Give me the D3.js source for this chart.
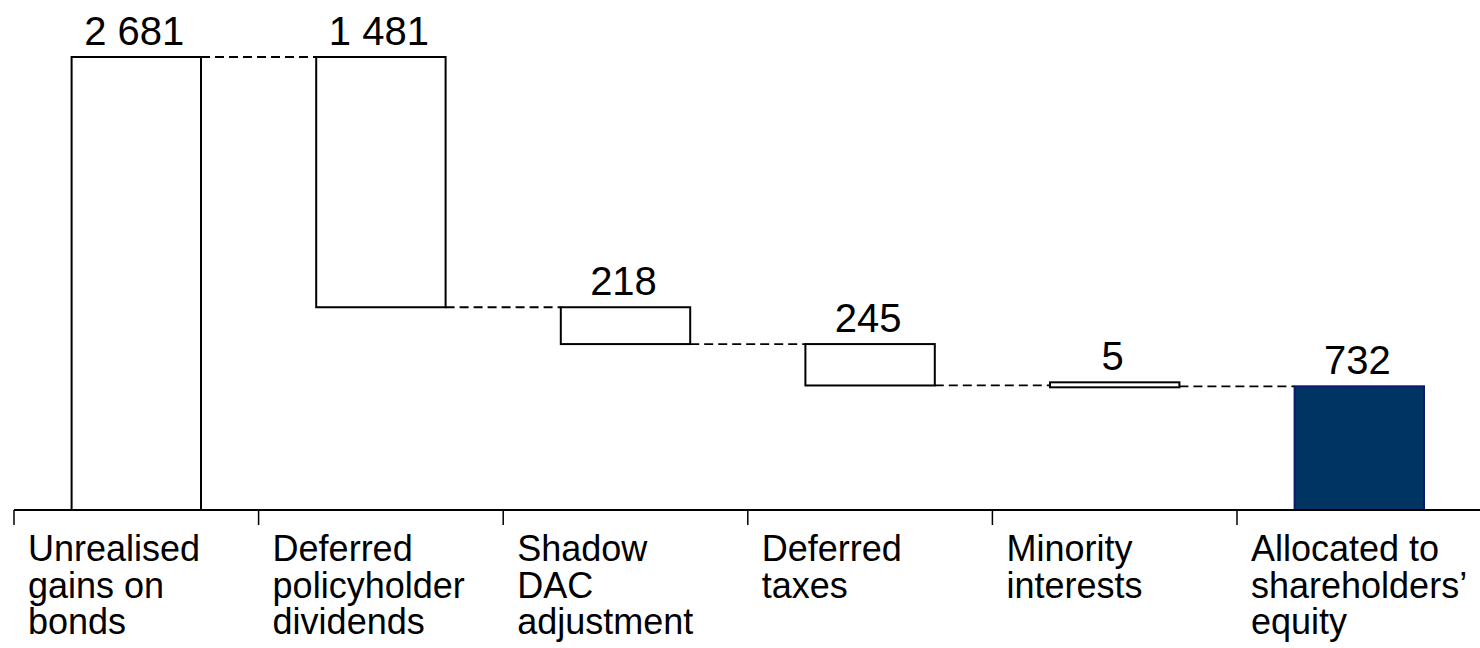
<!DOCTYPE html>
<html>
<head>
<meta charset="utf-8">
<script src="https://cdn.jsdelivr.net/npm/d3@7"></script>
<style>
  html, body { margin: 0; padding: 0; background: #fff; }
  svg { display: block; font-family: "Liberation Sans", Arial, sans-serif; }
</style>
</head>
<body>
<svg id="chart" width="1480" height="648"></svg>
<script>
// ---- data ----
const categories = [
  "Unrealised gains on bonds",
  "Deferred policyholder dividends",
  "Shadow DAC adjustment",
  "Deferred taxes",
  "Minority interests",
  "Allocated to shareholders’ equity"
];
const categoryLines = [
  ["Unrealised", "gains on", "bonds"],
  ["Deferred", "policyholder", "dividends"],
  ["Shadow", "DAC", "adjustment"],
  ["Deferred", "taxes"],
  ["Minority", "interests"],
  ["Allocated to", "shareholders’", "equity"]
];
const values = [2681, -1481, -218, -245, -5, 732];
const kinds = ["total", "step", "step", "step", "step", "total"];

// ---- layout ----
const svg = d3.select("#chart");
const axisY = 510;
const topY = 57;

const fmt = d3.formatLocale({decimal: ".", thousands: " ", grouping: [3], currency: ["", ""]}).format(",");

// compute waterfall segments
let cum = 0;
const bars = categories.map((c, i) => {
  let start, end;
  if (kinds[i] === "total") { start = 0; end = values[i]; cum = end; }
  else { start = cum; end = cum + values[i]; cum = end; }
  return {cat: c, lines: categoryLines[i], start, end, value: values[i], kind: kinds[i], i};
});

const y = d3.scaleLinear().domain([0, 2681]).range([axisY, topY]);

const innerPad = 0.471, outerPad = 0.2355;
const x = d3.scaleBand().domain(categories).range([14, 1481.6])
  .paddingInner(innerPad).paddingOuter(outerPad);
const step = x.step();
const bandStart = d => x(d) - step * outerPad;

const barTop = d => {
  const top = y(Math.max(d.start, d.end)), bot = y(Math.min(d.start, d.end));
  return (bot - top < 5) ? bot + 1 - 5 : top;
};
const barH = d => {
  const top = y(Math.max(d.start, d.end)), bot = y(Math.min(d.start, d.end));
  return Math.max(bot - top, 5);
};

// connectors
const conn = svg.append("g");
bars.slice(0, -1).forEach((b, i) => {
  const nb = bars[i + 1];
  conn.append("line")
    .attr("x1", x(b.cat) + x.bandwidth())
    .attr("x2", x(nb.cat))
    .attr("y1", y(b.end)).attr("y2", y(b.end))
    .attr("stroke", "#000").attr("stroke-width", 1.8)
    .attr("stroke-dasharray", "9,5");
});

// bars
svg.append("g").selectAll("rect").data(bars).join("rect")
  .attr("x", d => x(d.cat))
  .attr("width", x.bandwidth())
  .attr("y", barTop)
  .attr("height", barH)
  .attr("fill", d => d.i === bars.length - 1 ? "#003463" : "#fff")
  .attr("stroke", d => d.i === bars.length - 1 ? "#0a1a70" : "#000")
  .attr("stroke-width", 2);

// value labels
svg.append("g").selectAll("text").data(bars).join("text")
  .attr("x", d => x(d.cat) + x.bandwidth() / 2 - 2)
  .attr("y", d => barTop(d) - 12.5)
  .attr("text-anchor", "middle")
  .attr("font-size", 40)
  .attr("fill", "#000")
  .text(d => fmt(Math.abs(d.value)));

// axis
const ax = svg.append("g");
ax.append("line").attr("x1", 14).attr("x2", 1481.6)
  .attr("y1", axisY).attr("y2", axisY)
  .attr("stroke", "#000").attr("stroke-width", 2);
ax.selectAll(".tick").data(categories).join("line")
  .attr("class", "tick")
  .attr("x1", d => bandStart(d)).attr("x2", d => bandStart(d))
  .attr("y1", axisY).attr("y2", axisY + 15)
  .attr("stroke", "#000").attr("stroke-width", 1.5);

// category labels
const lab = svg.append("g").selectAll("text").data(bars).join("text")
  .attr("font-size", 36)
  .attr("fill", "#000");
lab.each(function(d) {
  const t = d3.select(this);
  d.lines.forEach((ln, k) => {
    t.append("tspan")
      .attr("x", bandStart(d.cat) + 14)
      .attr("y", 561 + k * 36.7)
      .text(ln);
  });
});
</script>
</body>
</html>
